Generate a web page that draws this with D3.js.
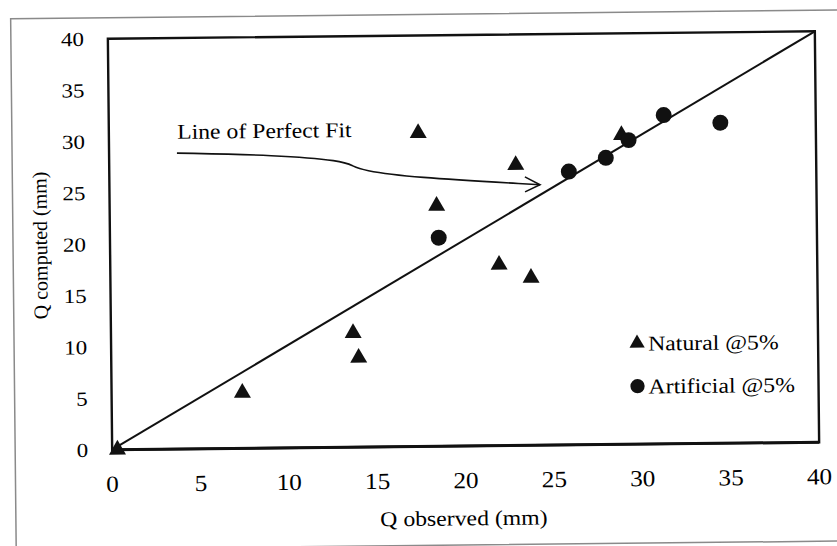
<!DOCTYPE html>
<html>
<head>
<meta charset="utf-8">
<script src="https://cdn.jsdelivr.net/npm/d3@7"></script>
<style>
  body { margin: 0; background: #fff; }
  text { font-family: "Liberation Serif", "DejaVu Serif", serif; fill: #000; }
</style>
</head>
<body>
<script>
// observed vs computed runoff (mm)
var naturalObs  = [0.3, 7.4, 13.7, 14.0, 17.5, 18.5, 22.0, 23.0, 23.8, 29.0]
var naturalComp = [0.0, 5.4, 11.1, 8.7, 30.5, 23.4, 17.6, 27.3, 16.3, 30.1]

var artificialObs  = [18.6, 26.0, 28.1, 29.4, 31.4, 34.6]
var artificialComp = [20.3, 26.6, 27.9, 29.6, 32.0, 31.2]

var xTicks = [0, 5, 10, 15, 20, 25, 30, 35, 40]
var yTicks = [0, 5, 10, 15, 20, 25, 30, 35, 40]

var legendLabels = ['Natural @5%', 'Artificial @5%']

// annotation arrow, in data units
var arrowPts = [[3.84, 28.8], [9.5, 28.5], [13.2, 27.9], [13.8, 27.35], [14.3, 26.95], [17, 26.2], [24.36, 25.35]]

var width = 837, height = 546
// plot area edges (window.top is reserved, so prefix them)
var pLeft = 110, pRight = 817, pTop = 35, pBottom = 446
var sx = 1.13  // the scan is stretched sideways a bit

var svg = d3.select('body').append('svg')
  .attr('width', width)
  .attr('height', height)

// the scan is tilted a little
var g = svg.append('g')
  .attr('transform', 'rotate(-0.6, 463.5, 240.5)')

var x = d3.scaleLinear().domain([0, 40]).range([pLeft, pRight])
var y = d3.scaleLinear().domain([0, 40]).range([pBottom, pTop])

function label(sel, px, py, size, anchor, s) {
  return sel.append('text')
    .attr('transform', 'translate(' + px + ',' + py + ') scale(' + s + ',1)')
    .attr('dy', '0.35em')
    .attr('text-anchor', anchor)
    .attr('font-size', size)
}

// outer border
g.append('rect')
  .attr('x', 13).attr('y', 14)
  .attr('width', 840).attr('height', 531)
  .attr('fill', 'none')
  .attr('stroke', '#8a8a8a')
  .attr('stroke-width', 1.5)

// plot frame
g.append('rect')
  .attr('x', pLeft).attr('y', pTop)
  .attr('width', pRight - pLeft).attr('height', pBottom - pTop)
  .attr('fill', 'none')
  .attr('stroke', '#111')
  .attr('stroke-width', 2.4)
g.append('line')
  .attr('x1', pLeft).attr('x2', pRight)
  .attr('y1', pBottom).attr('y2', pBottom)
  .attr('stroke', '#111').attr('stroke-width', 3)

// tick labels
xTicks.forEach(function (d) {
  label(g, x(d), pBottom + 34, 23, 'middle', 1.1).text(d)
})
yTicks.forEach(function (d) {
  label(g, pLeft - 24, y(d), 20, 'end', 1.15).text(d)
})

// axis titles
label(g, 461, 518, 21, 'middle', sx).text('Q observed (mm)')

g.append('text')
  .attr('transform', 'translate(40,241) rotate(-90)')
  .attr('dy', '0.35em')
  .attr('text-anchor', 'middle')
  .attr('font-size', 20)
  .text('Q computed (mm)')

// line of perfect fit
g.append('line')
  .attr('x1', x(0)).attr('y1', y(0))
  .attr('x2', x(40)).attr('y2', y(40))
  .attr('stroke', '#111')
  .attr('stroke-width', 2)

// annotation
label(g, x(3.86), y(30.9), 21, 'start', sx).text('Line of Perfect Fit')

var line = d3.line().x(d => x(d[0])).y(d => y(d[1])).curve(d3.curveBasis)
g.append('path')
  .attr('d', line(arrowPts))
  .attr('fill', 'none')
  .attr('stroke', '#111')
  .attr('stroke-width', 1.6)

var tip = arrowPts[arrowPts.length - 1]
var tx = x(tip[0]), ty = y(tip[1])
g.append('path')
  .attr('d', 'M' + (tx - 15) + ',' + (ty - 8) + 'L' + tx + ',' + ty + 'L' + (tx - 15) + ',' + (ty + 7))
  .attr('fill', 'none')
  .attr('stroke', '#111')
  .attr('stroke-width', 1.6)

// points
var tri = d3.symbol().type(d3.symbolTriangle).size(125)
var dot = d3.symbol().type(d3.symbolCircle).size(200)

g.selectAll('.nat').data(naturalObs).enter().append('path')
  .attr('d', tri)
  .attr('transform', (d, i) => 'translate(' + x(d) + ',' + y(naturalComp[i]) + ')')
  .attr('fill', '#111')

g.selectAll('.art').data(artificialObs).enter().append('path')
  .attr('d', dot)
  .attr('transform', (d, i) => 'translate(' + x(d) + ',' + y(artificialComp[i]) + ')')
  .attr('fill', '#111')

// legend
var legend = g.append('g').attr('transform', 'translate(636,345)')
legend.append('path')
  .attr('d', d3.symbol().type(d3.symbolTriangle).size(100))
  .attr('fill', '#111')
legend.append('path')
  .attr('d', d3.symbol().type(d3.symbolCircle).size(160))
  .attr('transform', 'translate(0,43)')
  .attr('fill', '#111')
legendLabels.forEach(function (d, i) {
  label(legend, 11, i * 43, 21, 'start', sx).text(d)
})
</script>
</body>
</html>
